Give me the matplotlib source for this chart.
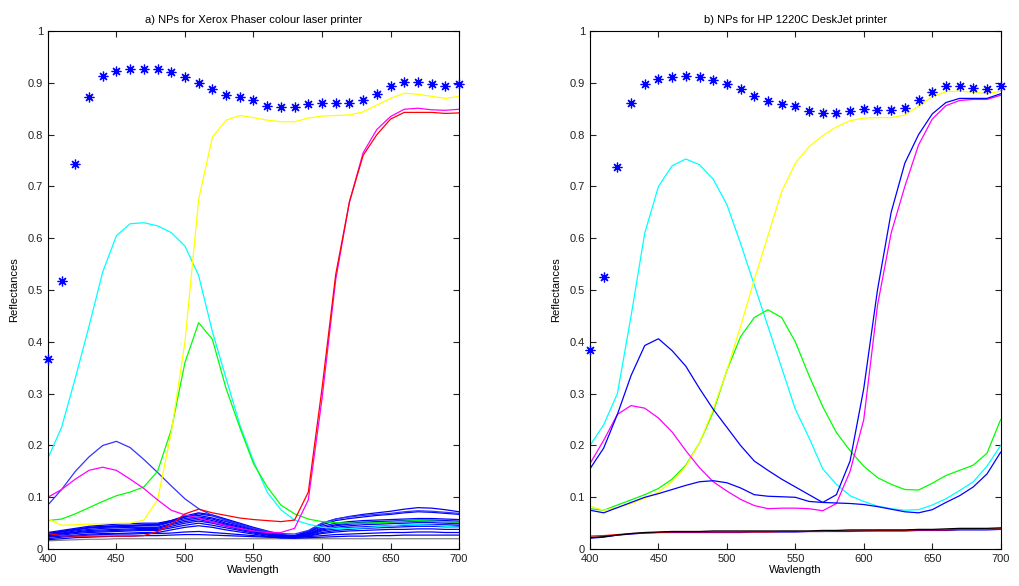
import matplotlib
matplotlib.use("Agg")
import matplotlib.pyplot as plt
import numpy as np

plt.rcParams['font.family'] = ['Liberation Sans', 'DejaVu Sans']

wl = np.arange(400, 701, 10)

# ---------- a) Xerox Phaser ----------
a_np = [0.366, 0.518, 0.743, 0.873, 0.913, 0.923, 0.926, 0.927, 0.926, 0.921, 0.911,
        0.900, 0.888, 0.877, 0.872, 0.866, 0.855, 0.853, 0.853, 0.859, 0.862, 0.861,
        0.861, 0.866, 0.879, 0.893, 0.902, 0.902, 0.897, 0.893, 0.897]
a_cyan = [0.175, 0.235, 0.33, 0.43, 0.535, 0.605, 0.628, 0.630, 0.624, 0.611, 0.585,
          0.528, 0.42, 0.33, 0.24, 0.17, 0.11, 0.076, 0.056, 0.048, 0.042, 0.040,
          0.040, 0.041, 0.043, 0.045, 0.047, 0.047, 0.046, 0.044, 0.042]
a_green = [0.055, 0.058, 0.068, 0.080, 0.092, 0.103, 0.110, 0.120, 0.150, 0.23, 0.36,
           0.437, 0.405, 0.31, 0.235, 0.165, 0.12, 0.085, 0.068, 0.058, 0.053, 0.051,
           0.050, 0.050, 0.051, 0.052, 0.054, 0.055, 0.054, 0.053, 0.052]
a_yellow = [0.058, 0.046, 0.047, 0.048, 0.049, 0.050, 0.050, 0.056, 0.095, 0.225, 0.40,
            0.675, 0.795, 0.828, 0.837, 0.833, 0.828, 0.825, 0.825, 0.832, 0.836, 0.837,
            0.838, 0.844, 0.857, 0.870, 0.880, 0.878, 0.874, 0.870, 0.874]
a_magenta = [0.100, 0.115, 0.135, 0.152, 0.158, 0.152, 0.135, 0.117, 0.095, 0.075, 0.066,
             0.060, 0.052, 0.045, 0.040, 0.035, 0.032, 0.032, 0.040, 0.095, 0.29, 0.52,
             0.67, 0.765, 0.81, 0.835, 0.849, 0.851, 0.848, 0.847, 0.849]
a_red = [0.030, 0.026, 0.025, 0.025, 0.025, 0.025, 0.025, 0.026, 0.034, 0.048, 0.068,
         0.077, 0.070, 0.065, 0.060, 0.057, 0.055, 0.053, 0.056, 0.11, 0.31, 0.53,
         0.67, 0.76, 0.80, 0.83, 0.843, 0.843, 0.843, 0.841, 0.842]
a_blue_hump = [0.085, 0.115, 0.150, 0.178, 0.200, 0.208, 0.196, 0.173, 0.148, 0.122, 0.097,
               0.078, 0.065, 0.055, 0.047, 0.040, 0.034, 0.030, 0.029, 0.036, 0.050, 0.058,
               0.062, 0.065, 0.067, 0.069, 0.072, 0.074, 0.073, 0.071, 0.069]
a_blues = [
    [0.030, 0.034, 0.038, 0.042, 0.044, 0.045, 0.046, 0.047, 0.048, 0.055, 0.064, 0.070, 0.066, 0.058, 0.050, 0.042,
     0.035, 0.028, 0.026, 0.035, 0.050, 0.058, 0.063, 0.067, 0.070, 0.073, 0.077, 0.080, 0.079, 0.076, 0.072],
    [0.028, 0.033, 0.037, 0.041, 0.043, 0.044, 0.045, 0.046, 0.047, 0.053, 0.062, 0.068, 0.064, 0.056, 0.048, 0.040,
     0.033, 0.027, 0.025, 0.033, 0.047, 0.055, 0.059, 0.062, 0.065, 0.067, 0.070, 0.072, 0.071, 0.069, 0.067],
    [0.032, 0.036, 0.040, 0.044, 0.046, 0.048, 0.049, 0.050, 0.050, 0.055, 0.062, 0.065, 0.060, 0.053, 0.046, 0.039,
     0.033, 0.027, 0.025, 0.032, 0.044, 0.050, 0.053, 0.055, 0.056, 0.057, 0.058, 0.059, 0.059, 0.058, 0.057],
    [0.030, 0.034, 0.038, 0.041, 0.042, 0.043, 0.044, 0.045, 0.045, 0.052, 0.059, 0.062, 0.058, 0.050, 0.044, 0.037,
     0.031, 0.026, 0.024, 0.030, 0.041, 0.047, 0.050, 0.052, 0.053, 0.054, 0.055, 0.056, 0.056, 0.055, 0.054],
    [0.027, 0.031, 0.035, 0.038, 0.040, 0.041, 0.042, 0.042, 0.042, 0.049, 0.056, 0.060, 0.055, 0.048, 0.042, 0.035,
     0.030, 0.025, 0.024, 0.029, 0.039, 0.045, 0.048, 0.050, 0.051, 0.052, 0.053, 0.054, 0.054, 0.053, 0.052],
    [0.026, 0.030, 0.033, 0.036, 0.037, 0.038, 0.039, 0.040, 0.040, 0.047, 0.053, 0.057, 0.052, 0.046, 0.040, 0.034,
     0.029, 0.025, 0.023, 0.028, 0.037, 0.042, 0.045, 0.047, 0.048, 0.049, 0.050, 0.051, 0.051, 0.050, 0.049],
    [0.025, 0.029, 0.032, 0.034, 0.035, 0.036, 0.037, 0.038, 0.038, 0.044, 0.050, 0.054, 0.050, 0.044, 0.038, 0.033,
     0.028, 0.024, 0.023, 0.027, 0.035, 0.039, 0.042, 0.043, 0.044, 0.045, 0.046, 0.047, 0.047, 0.047, 0.046],
    [0.024, 0.027, 0.030, 0.032, 0.033, 0.034, 0.035, 0.036, 0.036, 0.041, 0.046, 0.050, 0.046, 0.041, 0.036, 0.031,
     0.027, 0.023, 0.022, 0.026, 0.032, 0.036, 0.038, 0.040, 0.041, 0.042, 0.043, 0.044, 0.044, 0.043, 0.043],
    [0.023, 0.025, 0.027, 0.029, 0.030, 0.030, 0.031, 0.032, 0.032, 0.037, 0.042, 0.045, 0.042, 0.037, 0.033, 0.029,
     0.025, 0.022, 0.022, 0.025, 0.030, 0.033, 0.035, 0.036, 0.037, 0.038, 0.038, 0.039, 0.039, 0.038, 0.038],
    [0.020, 0.023, 0.025, 0.027, 0.028, 0.029, 0.029, 0.030, 0.030, 0.031, 0.033, 0.034, 0.032, 0.030, 0.028, 0.026,
     0.024, 0.022, 0.022, 0.024, 0.026, 0.028, 0.029, 0.030, 0.031, 0.032, 0.032, 0.033, 0.033, 0.032, 0.032],
    [0.018, 0.020, 0.022, 0.023, 0.024, 0.025, 0.025, 0.026, 0.026, 0.027, 0.028, 0.028, 0.027, 0.026, 0.025, 0.024,
     0.023, 0.022, 0.021, 0.022, 0.023, 0.024, 0.025, 0.025, 0.026, 0.026, 0.027, 0.027, 0.027, 0.027, 0.027],
]
a_gray = [0.016, 0.017, 0.018, 0.019, 0.019, 0.020, 0.020, 0.020, 0.020, 0.020, 0.020,
          0.020, 0.020, 0.020, 0.020, 0.020, 0.020, 0.020, 0.020, 0.020, 0.020, 0.020,
          0.020, 0.020, 0.020, 0.020, 0.020, 0.020, 0.020, 0.020, 0.020]

# ---------- b) HP 1220C DeskJet ----------
b_np = [0.385, 0.526, 0.738, 0.862, 0.898, 0.907, 0.911, 0.913, 0.911, 0.906, 0.898,
        0.888, 0.875, 0.865, 0.859, 0.855, 0.846, 0.841, 0.841, 0.846, 0.849, 0.848,
        0.848, 0.852, 0.867, 0.882, 0.893, 0.894, 0.891, 0.889, 0.893]
b_cyan = [0.20, 0.24, 0.30, 0.45, 0.61, 0.70, 0.74, 0.753, 0.742, 0.714, 0.665,
          0.59, 0.51, 0.43, 0.35, 0.27, 0.215, 0.155, 0.125, 0.103, 0.092, 0.083,
          0.078, 0.075, 0.076, 0.085, 0.097, 0.113, 0.130, 0.160, 0.200]
b_green = [0.078, 0.075, 0.085, 0.095, 0.105, 0.117, 0.135, 0.162, 0.205, 0.265, 0.345,
           0.41, 0.447, 0.462, 0.447, 0.40, 0.335, 0.275, 0.225, 0.19, 0.16, 0.138,
           0.125, 0.115, 0.114, 0.127, 0.142, 0.152, 0.162, 0.185, 0.25]
b_yellow = [0.083, 0.075, 0.080, 0.088, 0.098, 0.110, 0.130, 0.160, 0.205, 0.27, 0.345,
            0.43, 0.52, 0.605, 0.69, 0.745, 0.777, 0.798, 0.815, 0.827, 0.832, 0.833,
            0.833, 0.838, 0.855, 0.873, 0.883, 0.884, 0.882, 0.879, 0.884]
b_magenta = [0.165, 0.21, 0.26, 0.277, 0.272, 0.253, 0.226, 0.19, 0.157, 0.13, 0.112,
             0.096, 0.084, 0.078, 0.079, 0.079, 0.078, 0.074, 0.088, 0.15, 0.25, 0.47,
             0.61, 0.70, 0.78, 0.83, 0.856, 0.866, 0.868, 0.868, 0.876]
b_blue_hump = [0.155, 0.195, 0.26, 0.335, 0.393, 0.406, 0.383, 0.353, 0.31, 0.27, 0.235,
               0.20, 0.17, 0.152, 0.135, 0.12, 0.105, 0.09, 0.089, 0.088, 0.086, 0.082,
               0.077, 0.072, 0.070, 0.076, 0.090, 0.103, 0.120, 0.145, 0.187]
b_blue_sig = [0.075, 0.070, 0.080, 0.090, 0.100, 0.107, 0.115, 0.123, 0.130, 0.132, 0.128,
              0.118, 0.105, 0.102, 0.101, 0.100, 0.092, 0.090, 0.105, 0.17, 0.31, 0.50,
              0.65, 0.745, 0.80, 0.84, 0.862, 0.870, 0.870, 0.870, 0.879]
b_red = [0.025, 0.026, 0.028, 0.030, 0.031, 0.032, 0.033, 0.033, 0.033, 0.033, 0.033,
         0.033, 0.033, 0.033, 0.034, 0.034, 0.034, 0.034, 0.035, 0.035, 0.035, 0.036,
         0.036, 0.036, 0.037, 0.037, 0.037, 0.038, 0.038, 0.039, 0.039]
b_black = [0.022, 0.024, 0.027, 0.030, 0.032, 0.033, 0.034, 0.034, 0.034, 0.035, 0.035,
           0.035, 0.035, 0.035, 0.035, 0.035, 0.035, 0.036, 0.036, 0.037, 0.037, 0.037,
           0.037, 0.037, 0.038, 0.038, 0.039, 0.040, 0.040, 0.040, 0.041]
b_blue_low = [0.021, 0.023, 0.027, 0.029, 0.031, 0.032, 0.032, 0.032, 0.032, 0.032, 0.032,
              0.032, 0.033, 0.033, 0.033, 0.033, 0.034, 0.034, 0.034, 0.034, 0.035, 0.035,
              0.035, 0.035, 0.036, 0.036, 0.036, 0.037, 0.037, 0.037, 0.038]

fig = plt.figure(figsize=(10.19, 5.86), dpi=100)
ax1 = fig.add_axes([0.047, 0.063, 0.4035, 0.884])
ax2 = fig.add_axes([0.579, 0.063, 0.403, 0.884])

lw = 0.9
cyan, green, yellow, magenta = '#00ffff', '#00ff00', '#ffff00', '#ff00ff'
star = dict(marker=(8, 2, 0), markersize=7, color='b', linestyle='none',
            markeredgewidth=0.9, clip_on=False, zorder=5)

ax1.plot(wl, a_gray, color='#808080', lw=lw)
for b in a_blues:
    ax1.plot(wl, b, color='b', lw=lw)
ax1.plot(wl, a_blue_hump, color='#3333ff', lw=lw)
ax1.plot(wl, a_cyan, color=cyan, lw=lw)
ax1.plot(wl, a_green, color=green, lw=lw)
ax1.plot(wl, a_yellow, color=yellow, lw=lw)
ax1.plot(wl, a_magenta, color=magenta, lw=lw)
ax1.plot(wl, a_red, color='r', lw=lw)
ax1.plot(wl, a_np, **star)

ax2.plot(wl, b_blue_low, color='b', lw=lw)
ax2.plot(wl, b_red, color='r', lw=lw)
ax2.plot(wl, b_black, color='k', lw=lw)
ax2.plot(wl, b_cyan, color=cyan, lw=lw)
ax2.plot(wl, b_green, color=green, lw=lw)
ax2.plot(wl, b_yellow, color=yellow, lw=lw)
ax2.plot(wl, b_magenta, color=magenta, lw=lw)
ax2.plot(wl, b_blue_hump, color='b', lw=lw)
ax2.plot(wl, b_blue_sig, color='b', lw=lw)
ax2.plot(wl, b_np, **star)

titles = ['a) NPs for Xerox Phaser colour laser printer', 'b) NPs for HP 1220C DeskJet printer']
for ax, t in zip([ax1, ax2], titles):
    ax.set_xlim(400, 700)
    ax.set_ylim(0, 1)
    ax.set_xticks([400, 450, 500, 550, 600, 650, 700])
    ax.set_yticks(np.arange(0, 1.01, 0.1))
    ax.set_yticklabels(['0', '0.1', '0.2', '0.3', '0.4', '0.5', '0.6', '0.7', '0.8', '0.9', '1'])
    ax.tick_params(direction='in', top=True, right=True, length=4, width=0.8,
                   labelsize=8, colors='#222222')
    for s in ax.spines.values():
        s.set_linewidth(0.8)
    ax.set_title(t, fontsize=8, pad=6)
    ax.set_xlabel('Wavlength', fontsize=8, labelpad=1)
    ax.set_ylabel('Reflectances', fontsize=8, labelpad=6)

fig.savefig('out.png', dpi=100)
